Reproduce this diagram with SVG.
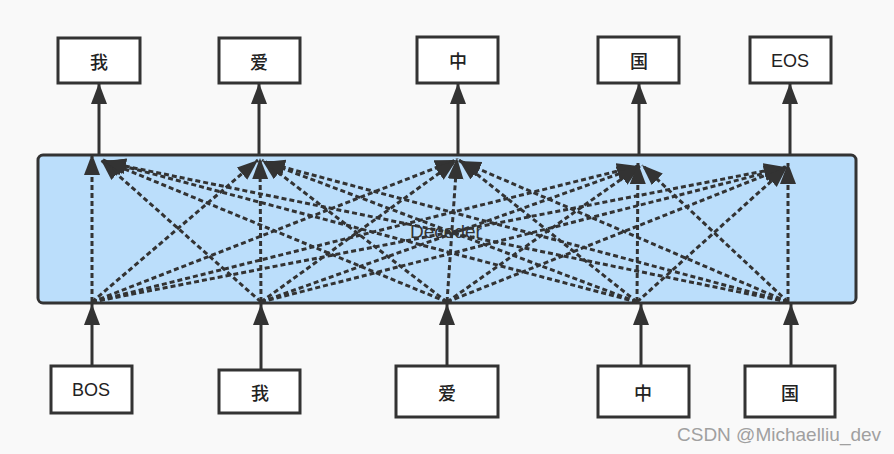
<svg xmlns="http://www.w3.org/2000/svg" width="894" height="454" viewBox="0 0 894 454">
<defs>
<style>
.box{fill:#ffffff;stroke:#333333;stroke-width:3}
.lbl{font-family:"Liberation Sans","Noto Sans CJK SC",sans-serif;font-size:18px;fill:#222222;text-anchor:middle;dominant-baseline:central}
.cjk{font-family:"Noto Sans CJK SC",sans-serif;font-weight:500;font-size:18px}
.solid{stroke:#333333;stroke-width:3;fill:none}
.dash{stroke:#333333;stroke-width:3;fill:none;stroke-dasharray:5 3}
</style>
<marker id="ah" markerUnits="userSpaceOnUse" markerWidth="24" markerHeight="18" refX="21" refY="8" orient="auto">
<path d="M0,0 L21,8 L0,16 z" fill="#333333"/>
</marker>
<marker id="ahd" markerUnits="userSpaceOnUse" markerWidth="24" markerHeight="18" refX="21" refY="8" orient="auto">
<path d="M0,0 L21,8 L0,16 z" fill="#333333"/>
</marker>
</defs>
<rect x="0" y="0" width="894" height="454" fill="#f9f9f9"/>

<g id="decoder">
<rect x="38" y="155" width="818" height="148" rx="5" fill="#bbdefb" stroke="#333333" stroke-width="3"/>
<text x="446" y="231" class="lbl" style="font-size:19px;fill:#333">Decoder</text>
</g>

<g id="connectors">
<!-- top outputs -->
<line class="solid" x1="99" y1="154" x2="99" y2="83" marker-end="url(#ah)"/>
<line class="solid" x1="259" y1="154" x2="259" y2="83" marker-end="url(#ah)"/>
<line class="solid" x1="458" y1="154" x2="458" y2="83" marker-end="url(#ah)"/>
<line class="solid" x1="639" y1="154" x2="639" y2="83" marker-end="url(#ah)"/>
<line class="solid" x1="790" y1="154" x2="790" y2="83" marker-end="url(#ah)"/>
<!-- bottom inputs -->
<line class="solid" x1="92" y1="366" x2="92" y2="304" marker-end="url(#ah)"/>
<line class="solid" x1="261" y1="370" x2="261" y2="304" marker-end="url(#ah)"/>
<line class="solid" x1="447" y1="366" x2="447" y2="304" marker-end="url(#ah)"/>
<line class="solid" x1="641" y1="366" x2="641" y2="304" marker-end="url(#ah)"/>
<line class="solid" x1="791" y1="366" x2="791" y2="304" marker-end="url(#ah)"/>
<!-- dashed attention lines: from BOS -->
<line class="dash" x1="92" y1="302" x2="92" y2="154" marker-end="url(#ahd)"/>
<line class="dash" x1="92" y1="302" x2="258" y2="160" marker-end="url(#ahd)"/>
<line class="dash" x1="92" y1="302" x2="456" y2="160" marker-end="url(#ahd)"/>
<line class="dash" x1="92" y1="302" x2="638" y2="166" marker-end="url(#ahd)"/>
<line class="dash" x1="92" y1="302" x2="785" y2="167" marker-end="url(#ahd)"/>
<!-- from 我 -->
<line class="dash" x1="261" y1="302" x2="101" y2="160" marker-end="url(#ahd)"/>
<line class="dash" x1="261" y1="302" x2="260" y2="158" marker-end="url(#ahd)"/>
<line class="dash" x1="261" y1="302" x2="456" y2="161" marker-end="url(#ahd)"/>
<line class="dash" x1="261" y1="302" x2="638" y2="167" marker-end="url(#ahd)"/>
<line class="dash" x1="261" y1="302" x2="785" y2="168" marker-end="url(#ahd)"/>
<!-- from 爱 -->
<line class="dash" x1="447" y1="302" x2="103" y2="160" marker-end="url(#ahd)"/>
<line class="dash" x1="447" y1="302" x2="262" y2="160" marker-end="url(#ahd)"/>
<line class="dash" x1="447" y1="302" x2="457" y2="158" marker-end="url(#ahd)"/>
<line class="dash" x1="447" y1="302" x2="640" y2="166" marker-end="url(#ahd)"/>
<line class="dash" x1="447" y1="302" x2="786" y2="167" marker-end="url(#ahd)"/>
<!-- from 中 -->
<line class="dash" x1="637" y1="302" x2="104" y2="161" marker-end="url(#ahd)"/>
<line class="dash" x1="637" y1="302" x2="263" y2="161" marker-end="url(#ahd)"/>
<line class="dash" x1="637" y1="302" x2="459" y2="160" marker-end="url(#ahd)"/>
<line class="dash" x1="637" y1="302" x2="638" y2="163" marker-end="url(#ahd)"/>
<line class="dash" x1="637" y1="302" x2="787" y2="167" marker-end="url(#ahd)"/>
<!-- from 国 -->
<line class="dash" x1="788" y1="302" x2="105" y2="162" marker-end="url(#ahd)"/>
<line class="dash" x1="788" y1="302" x2="264" y2="162" marker-end="url(#ahd)"/>
<line class="dash" x1="788" y1="302" x2="460" y2="161" marker-end="url(#ahd)"/>
<line class="dash" x1="788" y1="302" x2="642" y2="165" marker-end="url(#ahd)"/>
<line class="dash" x1="788" y1="302" x2="788" y2="163" marker-end="url(#ahd)"/>
</g>

<g id="out-wo"><rect class="box" x="58" y="38" width="82" height="45"/><text class="lbl cjk" x="99" y="61">我</text></g>
<g id="out-ai"><rect class="box" x="219" y="38" width="81" height="45"/><text class="lbl cjk" x="259" y="61">爱</text></g>
<g id="out-zhong"><rect class="box" x="417" y="37" width="81" height="46"/><text class="lbl cjk" x="458" y="60">中</text></g>
<g id="out-guo"><rect class="box" x="598" y="37" width="81" height="46"/><text class="lbl cjk" x="639" y="60">国</text></g>
<g id="out-eos"><rect class="box" x="750" y="37" width="81" height="46"/><text class="lbl" x="790" y="61">EOS</text></g>

<g id="in-bos"><rect class="box" x="51" y="366" width="81" height="47"/><text class="lbl" x="91" y="390">BOS</text></g>
<g id="in-wo"><rect class="box" x="219" y="370" width="81" height="43"/><text class="lbl cjk" x="260" y="392">我</text></g>
<g id="in-ai"><rect class="box" x="396" y="366" width="102" height="51"/><text class="lbl cjk" x="447" y="392">爱</text></g>
<g id="in-zhong"><rect class="box" x="598" y="366" width="91" height="51"/><text class="lbl cjk" x="643" y="392">中</text></g>
<g id="in-guo"><rect class="box" x="745" y="366" width="90" height="51"/><text class="lbl cjk" x="790" y="392">国</text></g>

<text x="677" y="441" style="font-family:'Liberation Sans',sans-serif;font-size:19px;fill:#a0a0a0">CSDN @Michaelliu_dev</text>
</svg>
